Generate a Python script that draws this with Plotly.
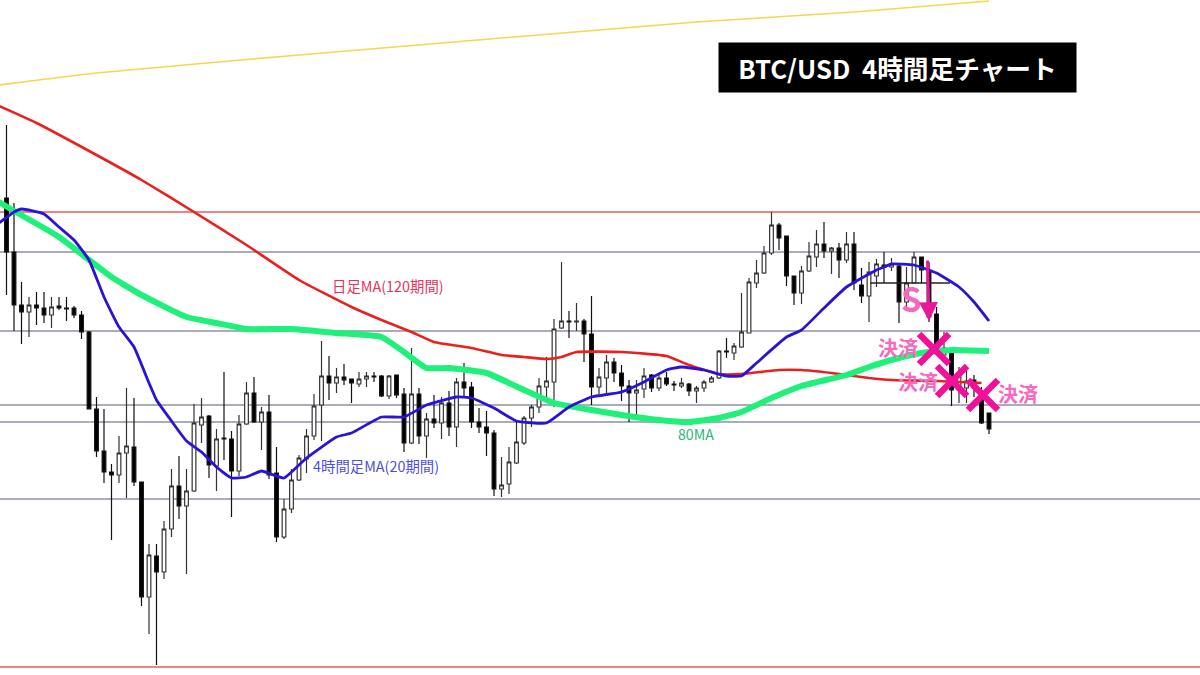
import plotly.graph_objects as go

bar_index = list(range(132))
opens = [477,423,370,363,370,367,360,369,367,367,360,343,266,224,203,200,222,228,193,78,119,103,146,189,169,184,250,259,209,237,236,204,251,282,253,263,202,138,166,195,216,239,270,299,292,298,296,291,296,299,299,279,300,281,232,281,239,256,252,272,248,293,288,253,248,242,186,191,212,232,257,268,288,293,347,354,353,354,341,288,297,313,302,289,282,286,300,287,297,291,289,291,284,287,293,297,324,322,328,342,392,402,422,450,439,399,382,404,418,431,424,427,415,431,390,379,399,410,408,409,373,392,418,405,361,320,322,285,287,295,278,262]
highs = [550,472,393,378,383,383,378,378,378,369,364,344,278,266,211,239,287,277,193,131,131,154,206,219,206,271,277,260,246,303,244,260,293,298,268,280,228,176,206,220,246,281,334,319,307,311,296,303,303,303,300,300,300,287,327,287,262,280,278,284,297,312,293,267,264,245,218,228,253,259,270,297,318,356,413,364,372,356,379,307,320,317,310,295,295,307,301,300,303,294,297,292,289,295,299,325,337,332,382,397,415,429,463,452,439,399,409,433,445,453,428,432,443,443,407,413,416,423,417,412,408,423,418,413,368,343,322,308,307,300,288,262]
lows = [380,344,331,338,350,352,347,365,354,357,336,266,218,192,135,192,177,189,69,41,10,96,138,156,101,183,232,197,184,215,158,199,250,252,225,196,133,136,162,194,202,235,234,275,282,290,272,288,288,293,278,276,277,223,231,231,217,247,236,239,228,279,247,242,219,179,178,181,211,230,248,262,278,268,346,337,344,313,270,281,280,293,274,253,260,277,283,284,289,284,287,279,272,283,292,296,317,315,327,342,387,401,420,425,389,370,371,403,408,417,401,397,412,385,372,353,388,392,404,352,367,392,392,353,320,315,269,272,272,278,251,241]
closes = [423,370,363,370,367,360,368,367,366,360,343,266,224,203,200,222,229,193,78,120,103,146,189,169,184,252,258,210,236,236,204,251,282,253,263,200,138,166,195,217,239,269,299,292,298,295,292,296,299,298,279,299,280,232,281,239,256,252,272,248,293,287,253,248,242,186,190,213,233,257,268,289,294,346,354,353,354,341,288,298,313,302,289,282,285,299,287,297,291,290,292,284,287,293,297,324,323,329,343,393,402,422,450,437,399,382,404,419,431,424,427,415,431,392,379,403,411,408,411,373,392,418,405,358,325,327,285,300,294,287,252,246]

blue_x = [-1,1,2,5,7,9,11,13,15,17,19,20,22,24,26,28,30,32,34,37,40,44,46,50,53,56,60,62,65,68,72,75,78,82,85,88,90,93,96,98,100,104,106,109,112,116,117,118,121,124,127,129,131]
blue_y = [452,463,466,461,448,435,415,378,348,328,292,275,254,234,223,208,197,198,204,197,217,238,242,258,258,270,278,277,267,254,252,268,278,283,293,305,308,305,299,299,312,338,345,367,388,405,408,411,410,402,388,373,354]
red_x = [-1,4,12,18,25,32,39,46,50,54,57,62,66,69,72,74,76,82,88,91,95,98,103,106,110,115,118,124,130]
red_y = [569,552,520,495,463,430,395,368,355,343,333,327,320,318,316,318,323,323,319,310,301,301,305,305,302,297,295,294,292]
green_x = [-1,1,5,7,10,14,18,24,28,32,38,44,50,53,56,59,64,69,73,78,82,87,91,95,98,102,106,112,115,118,122,126,131]
green_y = [473,464,447,438,421,398,380,358,352,346,346,342,338,323,307,307,302,285,272,265,260,255,253,257,263,277,289,300,308,315,322,325,324]
yellow_x = [-1,12,39,66,92,113,131]
yellow_y = [590,602,620,637,653,663,674]
red_levels = [463, 8]
gray_levels = [423, 344, 270, 253, 176]
entry_x = [115.2, 125.8]
entry_y = [392, 392]
exit_x = [123.67, 126.07, 130.2]
exit_y = [326, 294, 280]

CJK = "Noto Sans CJK JP"
PINK = "#f0109a"
LABEL_PINK = "#f768bf"

fig = go.Figure()
for v in red_levels:
    fig.add_hline(y=v, line=dict(color="#e25c5c", width=1.5), layer="below")
for v in gray_levels:
    fig.add_hline(y=v, line=dict(color="#8a93a3", width=1.5), layer="below")

fig.add_trace(go.Candlestick(
    x=bar_index, open=opens, high=highs, low=lows, close=closes,
    increasing=dict(line=dict(color="#333333", width=1.2), fillcolor="#ffffff"),
    decreasing=dict(line=dict(color="#111111", width=1.2), fillcolor="#000000"),
    whiskerwidth=0, showlegend=False, hoverinfo="skip"))


def ma(x, y, color, width):
    fig.add_trace(go.Scatter(x=x, y=y, mode="lines", showlegend=False, hoverinfo="skip",
                             line=dict(color=color, width=width, shape="spline", smoothing=0.4)))


ma(yellow_x, yellow_y, "#f5d750", 1.6)
ma(red_x, red_y, "#e8211e", 2.6)
ma(green_x, green_y, "#1ff07a", 6)
ma(blue_x, blue_y, "#2a12d6", 2.8)
fig.add_trace(go.Scatter(x=entry_x, y=entry_y, mode="lines", showlegend=False, hoverinfo="skip",
                         line=dict(color="#222222", width=1.5)))
fig.add_trace(go.Scatter(x=exit_x, y=exit_y, mode="markers", showlegend=False, hoverinfo="skip",
                         marker=dict(symbol="x-thin", size=30, color=PINK, line=dict(color=PINK, width=6.5))))


def label(x, y, text, color, size, bold=False):
    fig.add_annotation(x=x, y=y, text=f"<b>{text}</b>" if bold else text, showarrow=False,
                       font=dict(family=CJK, size=size, color=color), xanchor="center", yanchor="middle")


label(50.9, 390, "日足MA(120期間)", "#e2345c", 14.4)
label(49.3, 210, "4時間足MA(20期間)", "#4f4fdc", 14.4)
label(91.9, 241, "80MA", "#2eb67a", 14.2)
label(118.9, 328, "決済", LABEL_PINK, 20, True)
label(121.5, 294, "決済", LABEL_PINK, 20, True)
label(134.9, 282, "決済", LABEL_PINK, 20, True)
label(120.7, 377, "S", LABEL_PINK, 33, True)

fig.add_annotation(x=123, y=354, ax=122.8, ay=416, xref="x", yref="y", axref="x", ayref="y",
                   text="", showarrow=True, arrowhead=2, arrowsize=1.25, arrowwidth=3, arrowcolor="#e8189a")

fig.add_annotation(x=118.8, y=607.5, text="<b>BTC/USD\u00a0\u00a04時間足チャート</b>", showarrow=False,
                   font=dict(family=CJK, size=25.7, color="#ffffff"), bgcolor="#000000",
                   width=355, height=47, align="center", xanchor="center", yanchor="middle")

fig.update_layout(width=1200, height=675, margin=dict(l=0, r=0, t=0, b=0),
                  paper_bgcolor="#ffffff", plot_bgcolor="#ffffff", showlegend=False,
                  xaxis=dict(range=[-0.8667, 159.1333], visible=False, rangeslider=dict(visible=False)),
                  yaxis=dict(range=[0, 675], visible=False))
fig.write_html("out.html", config={"displayModeBar": False},
               post_script="document.body.style.margin='0';document.documentElement.style.overflow='hidden';")
